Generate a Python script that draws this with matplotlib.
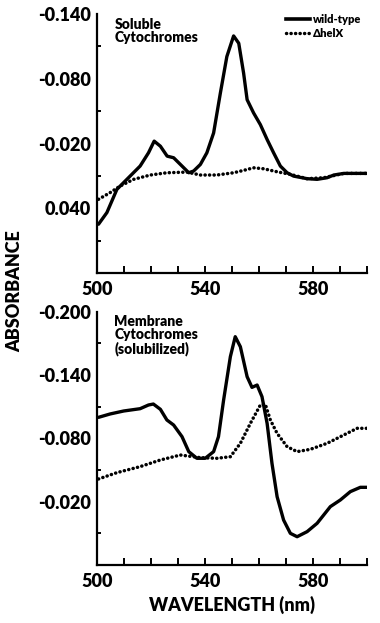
import numpy as np
import matplotlib
matplotlib.use("Agg")
import matplotlib.pyplot as plt

# soluble cytochromes (top panel)
sol_wt_nm = [500.6, 503.7, 507.4, 511.1, 516.0, 519.1, 521.2, 523.5, 526.0, 528.4, 530.9, 534.0,
             535.8, 538.3, 540.7, 543.2, 545.7, 548.1, 550.6, 552.5, 554.3, 555.6, 558.0, 560.5,
             563.0, 565.4, 567.9, 570.4, 572.8, 577.8, 581.5, 585.2, 587.7, 591.4, 600.0]
sol_wt_abs = [0.0548, 0.0440, 0.0225, 0.0132, 0.0009, -0.0114, -0.0222, -0.0175, -0.0083, -0.0068,
              -0.0006, 0.0071, 0.0055, -0.0006, -0.0114, -0.0298, -0.0668, -0.1006, -0.1197, -0.1129,
              -0.0852, -0.0606, -0.0483, -0.0375, -0.0237, -0.0114, 0.0009, 0.0071, 0.0102, 0.0126,
              0.0132, 0.0117, 0.0092, 0.0077, 0.0077]
sol_mut_nm = [500.6, 504.9, 508.6, 513.6, 519.8, 525.9, 533.3, 538.3, 544.4, 550.6, 554.3, 558.0,
              561.7, 566.7, 571.6, 577.8, 584.0, 591.4, 600.0]
sol_mut_abs = [0.0317, 0.0255, 0.0194, 0.0132, 0.0092, 0.0071, 0.0065, 0.0092, 0.0092, 0.0071,
               0.0049, 0.0025, 0.0034, 0.0062, 0.0086, 0.0126, 0.0117, 0.0077, 0.0077]

# membrane cytochromes (bottom panel)
mem_wt_nm = [500.6, 504.9, 509.9, 516.0, 519.1, 520.9, 523.5, 525.9, 528.4, 531.5, 534.0, 537.0,
             540.1, 543.2, 545.0, 546.9, 549.4, 551.2, 553.1, 555.6, 557.4, 559.3, 561.1, 563.0,
             564.8, 566.7, 569.1, 571.6, 574.1, 577.8, 581.5, 586.4, 590.1, 593.8, 597.5, 600.0]
mem_wt_abs = [-0.0999, -0.1031, -0.1059, -0.1081, -0.1116, -0.1125, -0.1075, -0.0974, -0.0926,
              -0.0816, -0.0674, -0.0611, -0.0611, -0.0674, -0.0816, -0.1163, -0.1574, -0.1763,
              -0.1668, -0.1384, -0.1283, -0.1305, -0.1195, -0.0942, -0.0563, -0.0247, -0.0026,
              0.0100, 0.0132, 0.0084, 0.0005, -0.0153, -0.0216, -0.0295, -0.0336, -0.0336]
mem_mut_nm = [500.6, 507.4, 516.0, 523.5, 530.9, 538.3, 544.4, 549.4, 553.1, 556.8, 560.5, 562.3,
              564.2, 566.7, 570.4, 574.1, 579.0, 585.2, 591.4, 596.3, 600.0]
mem_mut_abs = [-0.0415, -0.0475, -0.0532, -0.0595, -0.0642, -0.0617, -0.0611, -0.0626, -0.0753,
               -0.0942, -0.1116, -0.1125, -0.0974, -0.0847, -0.0721, -0.0674, -0.0696, -0.0753,
               -0.0832, -0.0895, -0.0895]

x_major = [500, 540, 580]
top_major = [-0.140, -0.080, -0.020, 0.040]
bot_major = [-0.200, -0.140, -0.080, -0.020]

plt.rcParams['font.family'] = ['Lato', 'DejaVu Sans']
plt.rcParams['font.weight'] = 'bold'
plt.rcParams['axes.labelweight'] = 'bold'

fig = plt.figure(figsize=(3.8, 6.23), dpi=100)
ax1 = fig.add_axes([0.255, 0.5618, 0.711, 0.4157])
ax2 = fig.add_axes([0.255, 0.0931, 0.711, 0.4066])

dots = dict(color='black', lw=2.5, linestyle=(0, (0.05, 1.25)), dash_capstyle='round')

def style(ax, ylo, yhi, ymaj):
    ax.set_xlim(500, 600)
    ax.set_ylim(yhi, ylo)
    for s in ['top', 'right']:
        ax.spines[s].set_visible(False)
    for s in ['left', 'bottom']:
        ax.spines[s].set_linewidth(1.6)
    ax.set_xticks(x_major)
    ax.set_xticks(np.arange(500, 601, 10), minor=True)
    ax.set_xticklabels([str(v) for v in x_major], fontsize=13, fontweight='heavy')
    ax.set_yticks(ymaj)
    ax.set_yticks(np.arange(ylo, yhi + 0.001, 0.03), minor=True)
    ax.set_yticklabels(['%.3f' % v for v in ymaj], fontsize=13, fontweight='heavy')
    ax.tick_params(axis='x', which='both', direction='in', length=5, width=1.4, pad=6)
    ax.tick_params(axis='y', which='both', direction='in', length=3, width=1.4, pad=4)
    ax.tick_params(axis='y', which='major', length=0, pad=4)

ax1.plot(sol_wt_nm, sol_wt_abs, color='black', lw=2.4, solid_capstyle='round',
         solid_joinstyle='round')
ax1.plot(sol_mut_nm, sol_mut_abs, **dots)
style(ax1, -0.140, 0.100, top_major)
ax1.text(0.065, 0.985, 'Soluble\nCytochromes', transform=ax1.transAxes, fontsize=10,
         fontweight='heavy', va='top', ha='left', linespacing=1.0)

# legend drawn by hand in axes fraction
ax1.plot([0.70, 0.79], [0.98, 0.98], transform=ax1.transAxes, color='black', lw=2.6, clip_on=False)
ax1.plot([0.70, 0.79], [0.925, 0.925], transform=ax1.transAxes, clip_on=False, **dots)
ax1.text(0.80, 0.98, 'wild-type', transform=ax1.transAxes, fontsize=8, fontweight='heavy',
         va='center', ha='left')
ax1.text(0.80, 0.925, '\u0394helX', transform=ax1.transAxes, fontsize=8, fontweight='heavy',
         va='center', ha='left')

ax2.plot(mem_wt_nm, mem_wt_abs, color='black', lw=2.4, solid_capstyle='round',
         solid_joinstyle='round')
ax2.plot(mem_mut_nm, mem_mut_abs, **dots)
style(ax2, -0.200, 0.040, bot_major)
ax2.text(0.065, 0.985, 'Membrane\nCytochromes\n(solubilized)', transform=ax2.transAxes,
         fontsize=10, fontweight='heavy', va='top', ha='left', linespacing=1.0)
ax2.set_xlabel('WAVELENGTH (nm)', fontsize=13, fontweight='heavy', labelpad=4)

fig.text(0.04, 0.533, 'ABSORBANCE', rotation=90, fontsize=13, fontweight='heavy',
         ha='center', va='center')

fig.savefig('out.png', dpi=100)
